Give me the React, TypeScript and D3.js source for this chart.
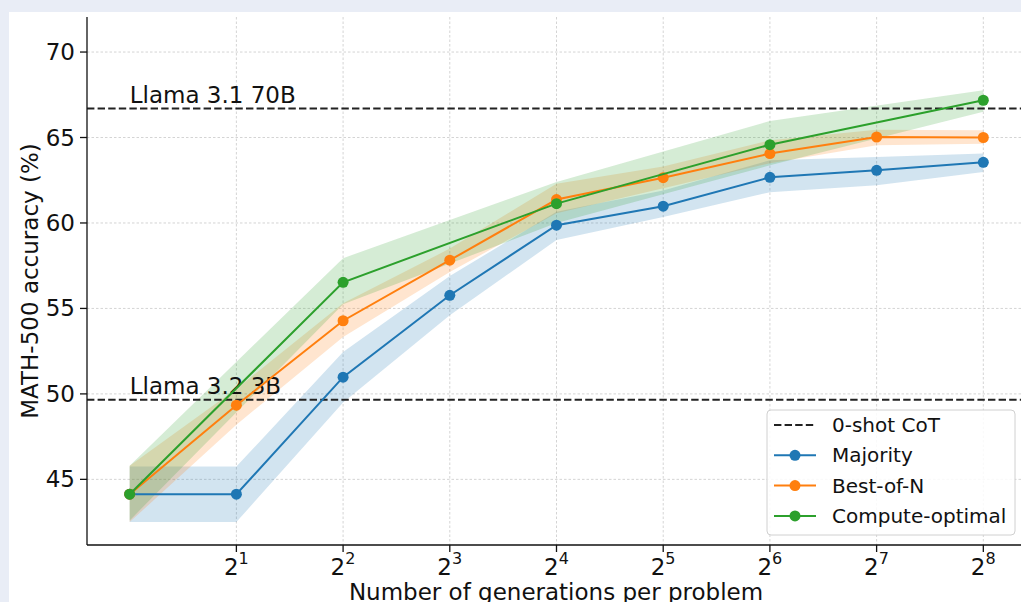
import React from "react";
import * as d3 from "d3";

const xExp = [0, 1, 2, 3, 4, 5, 6, 7, 8];
const majority = [44.13, 44.13, 50.98, 55.77, 59.87, 60.98, 62.67, 63.08, 63.55];
const majorityLo = [42.5, 42.5, 49.5, 54.6, 59.0, 60.35, 61.8, 62.2, 62.98];
const majorityHi = [45.75, 45.75, 52.45, 56.9, 60.65, 61.9, 63.67, 63.86, 64.06];

const bestOfN = [44.13, 49.34, 54.28, 57.82, 61.37, 62.65, 64.06, 65.03, 65.0];
const bestOfNLo = [42.5, 48.2, 53.33, 57.13, 60.57, 62.03, 63.5, 64.54, 64.64];
const bestOfNHi = [45.8, 50.3, 55.3, 58.5, 62.3, 63.3, 64.84, 65.46, 65.42];

const computeExp = [0, 2, 4, 6, 8];
const computeOpt = [44.13, 56.53, 61.13, 64.58, 67.18];
const computeOptLo = [42.6, 55.25, 60.0, 63.37, 66.5];
const computeOptHi = [45.8, 57.94, 62.4, 65.96, 67.76];

const refLines = [
  { label: "Llama 3.1 70B", value: 66.69 },
  { label: "Llama 3.2 3B", value: 49.66 },
];

const xTicks = [1, 2, 3, 4, 5, 6, 7, 8];
const yTicks = [45, 50, 55, 60, 65, 70];

const legendItems = ["0-shot CoT", "Majority", "Best-of-N", "Compute-optimal"];

const W = 1021;
const H = 602;
const FONT = "DejaVu Sans, sans-serif";

export default function App() {
  const x = d3.scaleLinear().domain([-0.4, 8.4]).range([87, 1026]);
  const y = d3.scaleLinear().domain([41.16, 72.05]).range([545, 17]);

  const series = [
    { name: "Majority", color: "#1f77b4", xs: xExp, v: majority, lo: majorityLo, hi: majorityHi },
    { name: "Best-of-N", color: "#ff7f0e", xs: xExp, v: bestOfN, lo: bestOfNLo, hi: bestOfNHi },
    { name: "Compute-optimal", color: "#2ca02c", xs: computeExp, v: computeOpt, lo: computeOptLo, hi: computeOptHi },
  ];

  const line = d3
    .line<[number, number]>()
    .x((d) => x(d[0]))
    .y((d) => y(d[1]));
  const area = d3
    .area<[number, number, number]>()
    .x((d) => x(d[0]))
    .y0((d) => y(d[1]))
    .y1((d) => y(d[2]));

  const legendColors = ["#222", "#1f77b4", "#ff7f0e", "#2ca02c"];

  return (
    <svg
      width={W}
      height={H}
      style={{ position: "absolute", left: 0, top: 0, fontFamily: FONT }}
    >
      <rect x={0} y={0} width={W} height={H} fill="#e9edf6" />
      <rect x={9} y={12} width={W - 9} height={H - 12} fill="#ffffff" />

      {/* grid */}
      {yTicks.map((t) => (
        <line
          key={"gy" + t}
          x1={87}
          x2={W}
          y1={y(t)}
          y2={y(t)}
          stroke="#cfcfcf"
          strokeWidth={0.9}
          strokeDasharray="2.5,2"
        />
      ))}
      {xTicks.map((t) => (
        <line
          key={"gx" + t}
          x1={x(t)}
          x2={x(t)}
          y1={17}
          y2={545}
          stroke="#cfcfcf"
          strokeWidth={0.9}
          strokeDasharray="2.5,2"
        />
      ))}

      {/* bands */}
      {series.map((s) => (
        <path
          key={"band" + s.name}
          d={area(s.xs.map((e, i) => [e, s.lo[i], s.hi[i]] as [number, number, number])) || ""}
          fill={s.color}
          fillOpacity={0.2}
        />
      ))}

      {/* reference lines */}
      {refLines.map((r) => (
        <g key={r.label}>
          <line
            x1={87}
            x2={W}
            y1={y(r.value)}
            y2={y(r.value)}
            stroke="#222"
            strokeWidth={2}
            strokeDasharray="7.4,3.2"
          />
          <text x={x(0)} y={y(r.value) - 6} fontSize={23} fill="#111">
            {r.label}
          </text>
        </g>
      ))}

      {/* lines */}
      {series.map((s) => (
        <g key={"line" + s.name}>
          <path
            d={line(s.xs.map((e, i) => [e, s.v[i]] as [number, number])) || ""}
            fill="none"
            stroke={s.color}
            strokeWidth={2}
          />
          {s.xs.map((e, i) => (
            <circle key={i} cx={x(e)} cy={y(s.v[i])} r={5.5} fill={s.color} />
          ))}
        </g>
      ))}

      {/* axes */}
      <line x1={87} x2={87} y1={17} y2={545} stroke="#111" strokeWidth={1.3} />
      <line x1={87} x2={W} y1={545} y2={545} stroke="#111" strokeWidth={1.3} />
      {yTicks.map((t) => (
        <g key={"ty" + t}>
          <line x1={80} x2={87} y1={y(t)} y2={y(t)} stroke="#111" strokeWidth={1.3} />
          <text
            x={75}
            y={y(t)}
            fontSize={23}
            textAnchor="end"
            dominantBaseline="central"
            fill="#111"
          >
            {t}
          </text>
        </g>
      ))}
      {xTicks.map((t) => (
        <g key={"tx" + t}>
          <line x1={x(t)} x2={x(t)} y1={545} y2={552} stroke="#111" strokeWidth={1.3} />
          <text x={x(t) - 12.5} y={575} fontSize={23} fill="#111">
            2
            <tspan fontSize={16} dy={-11}>
              {t}
            </tspan>
          </text>
        </g>
      ))}

      <text
        x={556}
        y={600}
        fontSize={23}
        textAnchor="middle"
        fill="#111"
      >
        Number of generations per problem
      </text>
      <text
        transform={`translate(38,${(17 + 545) / 2}) rotate(-90)`}
        fontSize={23}
        textAnchor="middle"
        fill="#111"
      >
        MATH-500 accuracy (%)
      </text>

      {/* legend */}
      <rect
        x={767}
        y={410}
        width={248}
        height={125}
        rx={4}
        fill="#ffffff"
        fillOpacity={0.85}
        stroke="#d0d0d0"
        strokeWidth={1}
      />
      {legendItems.map((name, i) => {
        const ly = 425 + i * 30.3;
        return (
          <g key={name}>
            <line
              x1={774}
              x2={816}
              y1={ly}
              y2={ly}
              stroke={legendColors[i]}
              strokeWidth={2}
              strokeDasharray={i === 0 ? "7.4,3.2" : undefined}
            />
            {i > 0 && <circle cx={795} cy={ly} r={5.5} fill={legendColors[i]} />}
            <text x={832} y={ly} fontSize={20} dominantBaseline="central" fill="#111">
              {name}
            </text>
          </g>
        );
      })}
    </svg>
  );
}
